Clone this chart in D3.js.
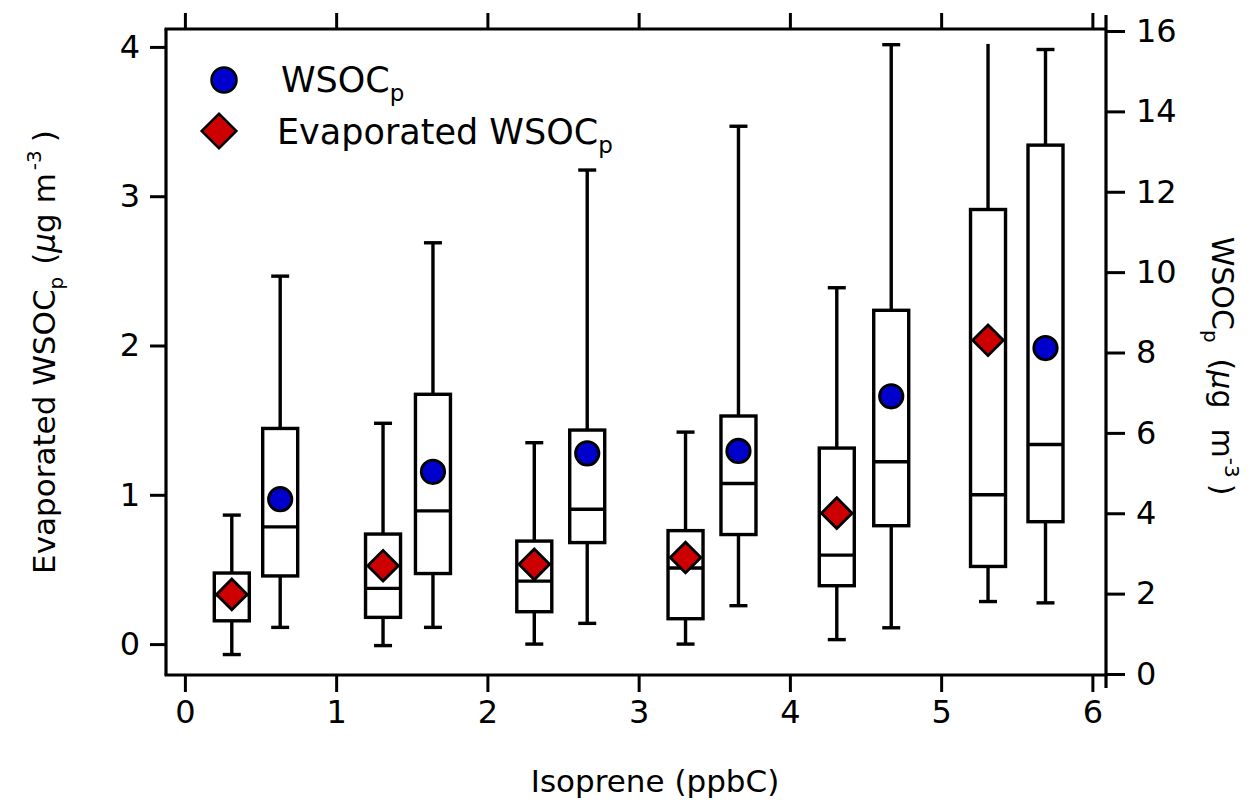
<!DOCTYPE html>
<html>
<head>
<meta charset="utf-8">
<script src="https://cdn.jsdelivr.net/npm/d3@7"></script>
<style>
  body { margin: 0; background: #fff; }
  text { font-family: "DejaVu Sans", sans-serif; fill: #000; }
</style>
</head>
<body>
<script>
// evaporated WSOCp boxes (left axis)
var evapX        = [0.31, 1.31, 2.31, 3.31, 4.31, 5.31];
var evapLow      = [-0.07, -0.01, 0.00, 0.00, 0.03, 0.285];
var evapQ1       = [0.156, 0.179, 0.217, 0.17, 0.391, 0.52];
var evapMedian   = [0.33, 0.373, 0.422, 0.51, 0.596, 1.00];
var evapQ3       = [0.476, 0.737, 0.690, 0.76, 1.313, 2.911];
var evapHigh     = [0.864, 1.479, 1.349, 1.42, 2.387, 4.02];
var evapMean     = [0.333, 0.525, 0.534, 0.58, 0.877, 2.035];

// WSOCp boxes (right axis)
var wsocX        = [0.63, 1.64, 2.66, 3.66, 4.67, 5.69];
var wsocLow      = [1.16, 1.16, 1.26, 1.70, 1.15, 1.77];
var wsocQ1       = [2.44, 2.50, 3.27, 3.47, 3.69, 3.79];
var wsocMedian   = [3.66, 4.06, 4.10, 4.74, 5.28, 5.71];
var wsocQ3       = [6.11, 6.96, 6.07, 6.42, 9.05, 13.16];
var wsocHigh     = [9.90, 10.73, 12.54, 13.63, 15.66, 15.54];
var wsocMean     = [4.35, 5.03, 5.49, 5.55, 6.91, 8.11];

var xTicks = [0, 1, 2, 3, 4, 5, 6];
var leftTicks = [0, 1, 2, 3, 4];
var rightTicks = [0, 2, 4, 6, 8, 10, 12, 14, 16];

var W = 1253, H = 800,
    L = 166, R = 1106, T = 29, B = 675;

var svg = d3.select("body").append("svg").attr("width", W).attr("height", H);

var x = d3.scaleLinear().domain([-0.125, 6.09]).range([L, R]);
var yL = d3.scaleLinear().domain([-0.207, 4.12]).range([B, T]);
var yR = d3.scaleLinear().domain([-0.025, 16.05]).range([B, T]);

function styleAxis(g) {
  g.selectAll(".tick line").attr("stroke", "#000").attr("stroke-width", 3);
  g.selectAll(".tick text").attr("font-size", 32).attr("font-family", "DejaVu Sans");
  g.select(".domain").remove();
}

// axes
svg.append("g").attr("transform", "translate(0," + B + ")")
    .call(d3.axisBottom(x).tickValues(xTicks).tickFormat(d3.format("d")).tickSize(17).tickPadding(8))
    .call(styleAxis);
svg.append("g").attr("transform", "translate(0," + T + ")")
    .call(d3.axisTop(x).tickValues(xTicks).tickFormat("").tickSize(16))
    .call(styleAxis);
svg.append("g").attr("transform", "translate(" + L + ",0)")
    .call(d3.axisLeft(yL).tickValues(leftTicks).tickFormat(d3.format("d")).tickSize(16).tickPadding(10))
    .call(styleAxis);
svg.append("g").attr("transform", "translate(" + R + ",0)")
    .call(d3.axisRight(yR).tickValues(rightTicks).tickFormat(d3.format("d")).tickSize(19).tickPadding(11))
    .call(styleAxis);

// frame lines
var frame = svg.append("g").attr("stroke", "#000").attr("stroke-width", 3.2).attr("fill", "none");
frame.append("line").attr("x1", L - 1.5).attr("x2", R).attr("y1", T).attr("y2", T);
frame.append("line").attr("x1", L - 1.5).attr("x2", R + 1.5).attr("y1", B).attr("y2", B);
frame.append("line").attr("x1", L).attr("x2", L).attr("y1", T).attr("y2", B);
frame.append("line").attr("x1", R).attr("x2", R).attr("y1", 15).attr("y2", 688);

// boxes
var boxW = 35, capW = 18;

function boxes(xs, lo, q1, med, q3, hi, y, topLimit) {
  var data = xs.map(function(d, i) {
    return {x: d, lo: lo[i], q1: q1[i], med: med[i], q3: q3[i], hi: hi[i]};
  });
  var g = svg.append("g").attr("stroke", "#000").attr("stroke-width", 3.4)
    .selectAll("g").data(data).enter().append("g");

  g.append("line") // upper whisker
      .attr("x1", function(d) { return x(d.x); }).attr("x2", function(d) { return x(d.x); })
      .attr("y1", function(d) { return y(d.q3); }).attr("y2", function(d) { return y(d.hi); });
  g.append("line") // lower whisker
      .attr("x1", function(d) { return x(d.x); }).attr("x2", function(d) { return x(d.x); })
      .attr("y1", function(d) { return y(d.q1); }).attr("y2", function(d) { return y(d.lo); });
  // no cap when the whisker runs past the top of the axis
  g.filter(function(d) { return d.hi <= topLimit; }).append("line")
      .attr("x1", function(d) { return x(d.x) - capW / 2; }).attr("x2", function(d) { return x(d.x) + capW / 2; })
      .attr("y1", function(d) { return y(d.hi); }).attr("y2", function(d) { return y(d.hi); });
  g.append("line")
      .attr("x1", function(d) { return x(d.x) - capW / 2; }).attr("x2", function(d) { return x(d.x) + capW / 2; })
      .attr("y1", function(d) { return y(d.lo); }).attr("y2", function(d) { return y(d.lo); });
  g.append("rect")
      .attr("x", function(d) { return x(d.x) - boxW / 2; })
      .attr("width", boxW)
      .attr("y", function(d) { return y(d.q3); })
      .attr("height", function(d) { return y(d.q1) - y(d.q3); })
      .attr("fill", "#fff");
  g.append("line")
      .attr("x1", function(d) { return x(d.x) - boxW / 2; }).attr("x2", function(d) { return x(d.x) + boxW / 2; })
      .attr("y1", function(d) { return y(d.med); }).attr("y2", function(d) { return y(d.med); });
}

boxes(evapX, evapLow, evapQ1, evapMedian, evapQ3, evapHigh, yL, 4);
boxes(wsocX, wsocLow, wsocQ1, wsocMedian, wsocQ3, wsocHigh, yR, 16);

var diamond = d3.symbol().type(d3.symbolSquare).size(470);
var circle = d3.symbol().type(d3.symbolCircle).size(430);

// means
svg.append("g").selectAll("path").data(evapMean).enter().append("path")
    .attr("d", diamond)
    .attr("transform", function(d, i) { return "translate(" + x(evapX[i]) + "," + yL(d) + ") rotate(45)"; })
    .attr("fill", "#cc0000").attr("stroke", "#000").attr("stroke-width", 2.8);
svg.append("g").selectAll("path").data(wsocMean).enter().append("path")
    .attr("d", circle)
    .attr("transform", function(d, i) { return "translate(" + x(wsocX[i]) + "," + yR(d) + ")"; })
    .attr("fill", "#0000cc").attr("stroke", "#000").attr("stroke-width", 2.8);

// legend
var legend = svg.append("g");
legend.append("path").attr("d", d3.symbol().type(d3.symbolCircle).size(491))
    .attr("transform", "translate(224,80)")
    .attr("fill", "#0000cc").attr("stroke", "#000").attr("stroke-width", 2.5);
legend.append("path").attr("d", d3.symbol().type(d3.symbolSquare).size(600))
    .attr("transform", "translate(219,131) rotate(45)")
    .attr("fill", "#cc0000").attr("stroke", "#000").attr("stroke-width", 2.5);
var t1 = legend.append("text").attr("x", 281).attr("y", 92).attr("font-size", 35);
t1.append("tspan").text("WSOC");
t1.append("tspan").attr("font-size", 23).attr("dy", 9).text("p");
var t2 = legend.append("text").attr("x", 277).attr("y", 144).attr("font-size", 35);
t2.append("tspan").text("Evaporated WSOC");
t2.append("tspan").attr("font-size", 23).attr("dy", 9).text("p");

// axis titles
svg.append("text").attr("x", 655).attr("y", 792).attr("text-anchor", "middle")
    .attr("font-size", 31).text("Isoprene (ppbC)");

var lt = svg.append("text").attr("transform", "translate(55,352) rotate(-90)")
    .attr("text-anchor", "middle").attr("font-size", 31);
lt.append("tspan").text("Evaporated WSOC");
lt.append("tspan").attr("font-size", 20).attr("dy", 8).text("p");
lt.append("tspan").attr("dy", -8).attr("dx", 12).text("(");
lt.append("tspan").attr("font-style", "italic").text("\u03bc");
lt.append("tspan").text("g m");
lt.append("tspan").attr("font-size", 20).attr("dy", -14).attr("dx", 3).text("-3");
lt.append("tspan").attr("dy", 14).attr("dx", 8).text(")");

var rt = svg.append("text").attr("transform", "translate(1212,366) rotate(90)")
    .attr("text-anchor", "middle").attr("font-size", 30);
rt.append("tspan").text("WSOC");
rt.append("tspan").attr("font-size", 20).attr("dy", 8).text("p");
rt.append("tspan").attr("dy", -8).attr("dx", 16).text("(");
rt.append("tspan").attr("font-style", "italic").text("\u03bc");
rt.append("tspan").text("g");
rt.append("tspan").attr("dx", 20).text("m");
rt.append("tspan").attr("font-size", 20).attr("dy", -13).attr("dx", 0).text("-3");
rt.append("tspan").attr("dy", 13).attr("dx", 6).text(")");
</script>
</body>
</html>
